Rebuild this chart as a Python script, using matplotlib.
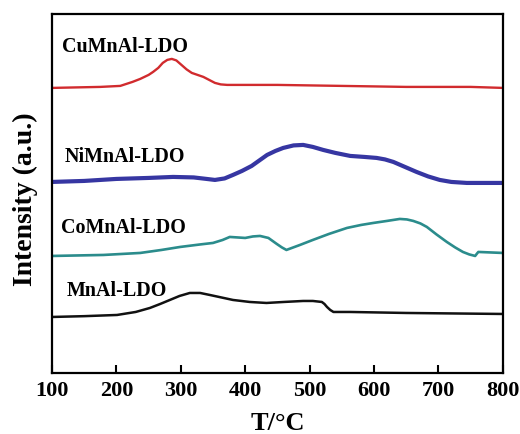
import matplotlib
matplotlib.use("Agg")
import matplotlib.pyplot as plt

# Temperature (°C) / intensity (a.u.)
cu_T = [100, 175, 206, 225, 237, 250, 257, 265, 272, 279, 286, 293, 301, 309, 317, 326, 335, 344, 353, 362, 372, 450, 550, 650, 750, 800]
cu_I = [285, 286, 287, 291, 294, 298, 301, 305, 310, 313, 314, 312.5, 308, 303.5, 300, 298, 296, 293, 290, 288.5, 288, 288, 287, 286, 286, 285]

ni_T = [100, 150, 200, 250, 288, 320, 340, 353, 368, 381, 395, 410, 422, 434, 447, 459, 475, 490, 505, 521, 540, 563, 585, 604, 617, 630, 648, 666, 684, 702, 720, 744, 800]
ni_I = [191, 192, 194, 195, 196, 195.5, 194, 193, 194.5, 198, 202, 207, 212.5, 218, 222, 225, 227.5, 228, 226, 223, 220, 217, 216, 215, 213.5, 211, 206, 201, 196.5, 193, 191, 190, 190]

co_T = [100, 180, 237, 270, 299, 330, 350, 365, 376, 388, 400, 412, 423, 436, 449, 457, 464, 485, 505, 530, 558, 580, 599, 620, 640, 651, 661, 672, 682, 697, 713, 726, 738, 748, 757, 760, 762, 800]
co_I = [117, 118, 120, 123, 126, 128.5, 130, 133, 136, 135.5, 135, 136.5, 137, 135, 129, 125.5, 123, 128, 133, 139, 145, 148, 150, 152, 154, 153.5, 152, 149.5, 146, 138.5, 131, 125.5, 121, 118.5, 117, 119.5, 121, 120]

mn_T = [100, 150, 201, 230, 252, 268, 283, 298, 314, 330, 345, 363, 381, 407, 433, 460, 490, 505, 519, 523, 527, 532, 537, 545, 563, 650, 800]
mn_I = [56, 56.8, 58, 61, 65, 69, 73, 77, 80, 80, 78, 75.5, 73, 71, 70, 71, 72, 72, 71, 69, 66, 63, 61, 61, 61, 60, 59]

labels = ["CuMnAl-LDO", "NiMnAl-LDO", "CoMnAl-LDO", "MnAl-LDO"]
label_T = [115, 120, 114, 123]
label_I = [321, 211, 140, 77]

xticks = [100, 200, 300, 400, 500, 600, 700, 800]

plt.rcParams['font.family'] = ['Liberation Serif', 'DejaVu Serif']
plt.rcParams['font.weight'] = 'bold'

fig = plt.figure(figsize=(5.2, 4.34), dpi=100)
ax = fig.add_axes([0.1, 0.1406, 0.867, 0.8274])

line_kw = dict(solid_joinstyle='round', solid_capstyle='round')
ax.plot(cu_T, cu_I, color='#d12b2e', lw=1.7, **line_kw)
ax.plot(ni_T, ni_I, color='#3636a2', lw=3.0, **line_kw)
ax.plot(co_T, co_I, color='#2b8c8c', lw=1.9, **line_kw)
ax.plot(mn_T, mn_I, color='#111111', lw=1.8, **line_kw)

for lab, t, i in zip(labels, label_T, label_I):
    ax.text(t, i, lab, fontsize=14.4, fontweight='bold', ha='left', va='baseline')

ax.set_xlim(100, 800)
ax.set_ylim(0, 359)
ax.set_xticks(xticks)
ax.set_xticklabels([str(t) for t in xticks], fontsize=16, fontweight='bold')
ax.set_yticks([])
ax.tick_params(axis='x', direction='in', length=6, width=1.5, pad=6)
for s in ax.spines.values():
    s.set_linewidth(1.6)

ax.set_xlabel("T/°C", fontsize=19, fontweight='bold')
ax.xaxis.set_label_coords(0.5, -0.108)
ax.xaxis.label.set_va('top')
ax.set_ylabel("Intensity (a.u.)", fontsize=20, fontweight='bold')
ax.yaxis.label.set_va('center')
ax.yaxis.set_label_coords(-0.06, 0.483)

fig.savefig("out.png", dpi=100)
